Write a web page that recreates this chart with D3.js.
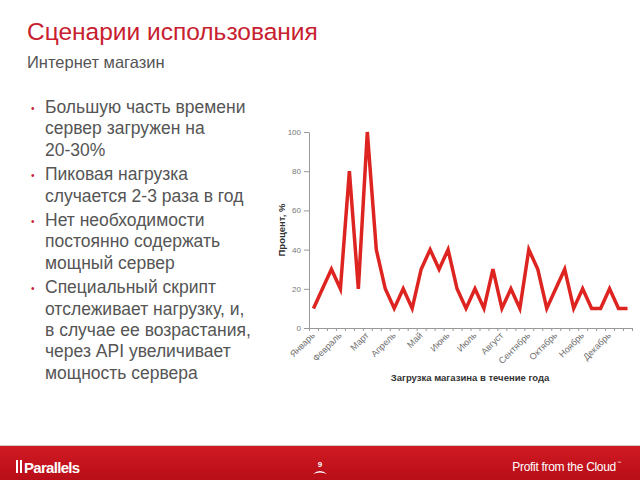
<!DOCTYPE html>
<html>
<head>
<meta charset="utf-8">
<script src="https://cdn.jsdelivr.net/npm/d3@7"></script>
<style>
  body { margin: 0; background: #fff; }
  svg { display: block; font-family: "Liberation Sans", Arial, sans-serif; }
</style>
</head>
<body>
<div class="canvas"></div>
<script>
// data
const months = ["Январь", "Февраль", "Март", "Апрель", "Май", "Июнь",
  "Июль", "Август", "Сентябрь", "Октябрь", "Ноябрь", "Декабрь"];
// load, %, three readings per month
const load = [10, 20, 30, 20, 80, 20, 100, 40, 20, 10, 20, 10,
  30, 40, 30, 40, 20, 10, 20, 10, 30, 10, 20, 10,
  40, 30, 10, 20, 30, 10, 20, 10, 10, 20, 10, 10];
const yTicks = [0, 20, 40, 60, 80, 100];
const bullets = [
  ["Большую часть времени", "сервер загружен на", "20-30%"],
  ["Пиковая нагрузка", "случается 2-3 раза в год"],
  ["Нет необходимости", "постоянно содержать", "мощный сервер"],
  ["Специальный скрипт", "отслеживает нагрузку, и,", "в случае ее возрастания,", "через API увеличивает", "мощность сервера"]
];

const w = 640;
const h = 480;
const svg = d3.select(".canvas").append("svg").attr("width", w).attr("height", h);

// title block
svg.append("text").attr("x", 27).attr("y", 40)
  .text("Сценарии использования")
  .style("font-size", "24.5px").style("fill", "#c8202f");
svg.append("text").attr("x", 27).attr("y", 68)
  .text("Интернет магазин")
  .style("font-size", "16.5px").style("fill", "#555");

// bullet list
let lineY = 113;
bullets.forEach((b) => {
  svg.append("text").attr("x", 31).attr("y", lineY - 1).text("•")
    .style("font-size", "10px").style("fill", "#c8202f");
  b.forEach((line) => {
    svg.append("text").attr("x", 45).attr("y", lineY).text(line)
      .style("font-size", "17.5px").style("fill", "#555");
    lineY += 21.4;
  });
  lineY += 3;
});

// chart
const x = d3.scaleLinear().domain([0, load.length]).range([309, 632]);
const y = d3.scaleLinear().domain([0, 100]).range([328, 132]);

const xAxis = d3.axisBottom(x).tickValues(d3.range(load.length + 1))
  .tickFormat("").tickSize(3).tickSizeOuter(0);
const gx = svg.append("g").attr("transform", `translate(0, ${y(0)})`).call(xAxis);
gx.select(".domain").attr("stroke", "#999");
gx.selectAll(".tick line").attr("stroke", "#999");

const yAxis = d3.axisLeft(y).tickValues(yTicks).tickSize(5).tickSizeOuter(0).tickPadding(3);
const gy = svg.append("g").attr("transform", `translate(${x(0)}, 0)`).call(yAxis);
gy.select(".domain").attr("stroke", "#999");
gy.selectAll(".tick line").attr("stroke", "#999");
gy.selectAll(".tick text").style("font-size", "8px").style("fill", "#777")
  .style("font-family", "'Liberation Sans', Arial, sans-serif");

// month labels, one per three readings
svg.selectAll(".month").data(months).enter().append("text")
  .attr("class", "month")
  .attr("transform", (d, i) => `translate(${x(i * 3 + 0.5) + 2}, ${y(0) + 8}) rotate(-45)`)
  .attr("text-anchor", "end")
  .text((d) => d)
  .style("font-size", "9px").style("fill", "#6f6f6f");

// line
const line = d3.line().x((d, i) => x(i + 0.5)).y((d) => y(d));
svg.append("path").datum(load)
  .attr("d", line)
  .attr("fill", "none")
  .attr("stroke", "#dd2420")
  .attr("stroke-width", 3.5)
  .attr("stroke-linejoin", "miter");

// axis titles
svg.append("text")
  .attr("transform", `translate(285, ${y(50)}) rotate(-90)`)
  .attr("text-anchor", "middle")
  .text("Процент, %")
  .style("font-size", "9.5px").style("font-weight", "bold").style("fill", "#333");
svg.append("text").attr("x", 470).attr("y", 381)
  .attr("text-anchor", "middle")
  .text("Загрузка магазина в течение года")
  .style("font-size", "9.5px").style("font-weight", "bold").style("fill", "#333");

// footer band
const grad = svg.append("defs").append("linearGradient")
  .attr("id", "foot").attr("x1", 0).attr("y1", 0).attr("x2", 0).attr("y2", 1);
grad.append("stop").attr("offset", "0%").attr("stop-color", "#d01a22");
grad.append("stop").attr("offset", "100%").attr("stop-color", "#b80d18");
svg.append("rect").attr("x", 0).attr("y", 445).attr("width", w).attr("height", 1).attr("fill", "#ccc");
svg.append("rect").attr("x", 0).attr("y", 446).attr("width", w).attr("height", 34).attr("fill", "url(#foot)");

svg.append("rect").attr("x", 16).attr("y", 460).attr("width", 2).attr("height", 13).attr("fill", "#fff");
svg.append("rect").attr("x", 20).attr("y", 460).attr("width", 2).attr("height", 13).attr("fill", "#fff");
svg.append("text").attr("x", 24).attr("y", 472.5).text("Parallels")
  .style("font-size", "15px").style("font-weight", "bold").style("fill", "#fff")
  .style("letter-spacing", "-0.7px");

svg.append("text").attr("x", 320).attr("y", 467).attr("text-anchor", "middle").text("9")
  .style("font-size", "8px").style("font-weight", "bold").style("fill", "#fff");
svg.append("path").attr("d", "M313,474 Q320,468 327,474 Q320,471 313,474 Z").attr("fill", "#fff");

svg.append("text").attr("x", 616).attr("y", 471).attr("text-anchor", "end").text("Profit from the Cloud")
  .style("font-size", "12px").style("fill", "#fff").style("letter-spacing", "-0.3px");
svg.append("text").attr("x", 617).attr("y", 464).text("™")
  .style("font-size", "4px").style("fill", "#fff");
</script>
</body>
</html>
